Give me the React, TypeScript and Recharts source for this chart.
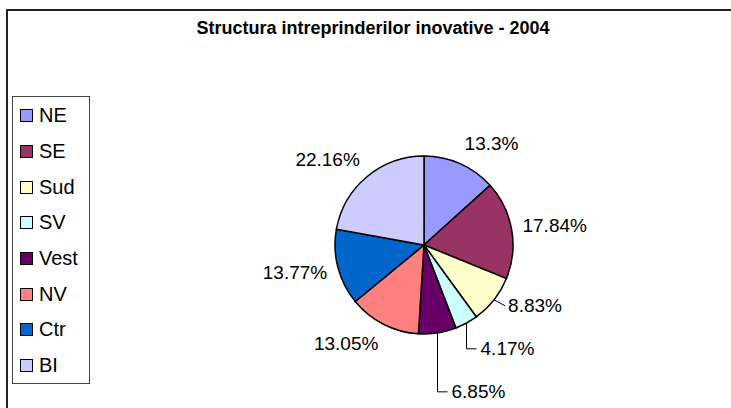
import { PieChart, Pie, Cell, Legend } from "recharts";

const regions = ["NE", "SE", "Sud", "SV", "Vest", "NV", "Ctr", "BI"];
const shares = [13.3, 17.84, 8.83, 4.17, 6.85, 13.05, 13.77, 22.16];
const colors = ["#9999FF", "#993366", "#FFFFCC", "#CCFFFF", "#660066", "#FF8080", "#0066CC", "#CCCCFF"];

const data = regions.map((name, i) => ({ name, value: shares[i] }));

const FONT = "'Liberation Sans', Arial, sans-serif";
const RAD = Math.PI / 180;

// small slices get stacked labels with elbow leader lines
const smallLabelY: Record<number, number> = {};

function PieLabel(props: any) {
  const { cx, cy, midAngle, outerRadius, index, value, percent } = props;
  const ux = Math.cos(-midAngle * RAD);
  const uy = Math.sin(-midAngle * RAD);
  const px = cx + outerRadius * ux;
  const py = cy + outerRadius * uy;
  const text = `${value}%`;

  if (percent < 0.1) {
    let prev = -Infinity;
    for (let j = index - 1; j >= 0; j--) {
      if (smallLabelY[j] !== undefined) { prev = smallLabelY[j]; break; }
    }
    const y = Math.max(py + 6, prev + 43);
    smallLabelY[index] = y;
    const lx = px + 14;
    const path = y - py > 8
      ? `M${px},${py} L${px},${y} L${lx - 4},${y}`
      : `M${px},${py} L${lx - 3},${y}`;
    return (
      <g>
        <path d={path} stroke="#000" strokeWidth={1} fill="none" />
        <text x={lx} y={y} dominantBaseline="central" textAnchor="start" fontSize={19} fontFamily={FONT} fill="#000">
          {text}
        </text>
      </g>
    );
  }

  const R = outerRadius + 11;
  const ax = cx + R * ux;
  const ay = cy + R * uy + uy * 11;
  return (
    <text x={ax} y={ay} dominantBaseline="central" textAnchor={ux >= 0 ? "start" : "end"} fontSize={19} fontFamily={FONT} fill="#000">
      {text}
    </text>
  );
}

function LegendBox() {
  return (
    <div style={{ width: 78, height: 288, border: "1px solid #444", background: "#fff", boxSizing: "border-box", paddingTop: 1 }}>
      {regions.map((r, i) => (
        <div key={r} style={{ height: 35.7, display: "flex", alignItems: "center", fontFamily: FONT, fontSize: 20, color: "#000" }}>
          <span style={{ width: 11, height: 11, background: colors[i], border: "1px solid #000", marginLeft: 7, marginRight: 6, display: "inline-block" }} />
          <span>{r}</span>
        </div>
      ))}
    </div>
  );
}

export default function App() {
  return (
    <div style={{ position: "absolute", left: 0, top: 0, width: 731, height: 408, overflow: "hidden", background: "#fff" }}>
      <div style={{ position: "absolute", left: 6, top: 9, width: 800, height: 500, border: "2px solid #222" }} />
      <div style={{ position: "absolute", left: 0, width: 746, top: 18, textAlign: "center", fontFamily: FONT, fontWeight: "bold", fontSize: 18, color: "#000" }}>
        Structura intreprinderilor inovative - 2004
      </div>
      <PieChart width={731} height={408} style={{ position: "absolute", left: 0, top: 0 }}>
        <Pie
          data={data}
          dataKey="value"
          nameKey="name"
          cx={419}
          cy={240}
          outerRadius={89}
          startAngle={90}
          endAngle={-270}
          stroke="#000"
          strokeWidth={1.5}
          label={PieLabel}
          labelLine={false}
          isAnimationActive={false}
        >
          {data.map((d, i) => (
            <Cell key={d.name} fill={colors[i]} />
          ))}
        </Pie>
        <Legend
          layout="vertical"
          content={<LegendBox />}
          wrapperStyle={{ position: "absolute", left: 12, top: 96, width: 78 }}
        />
      </PieChart>
    </div>
  );
}
